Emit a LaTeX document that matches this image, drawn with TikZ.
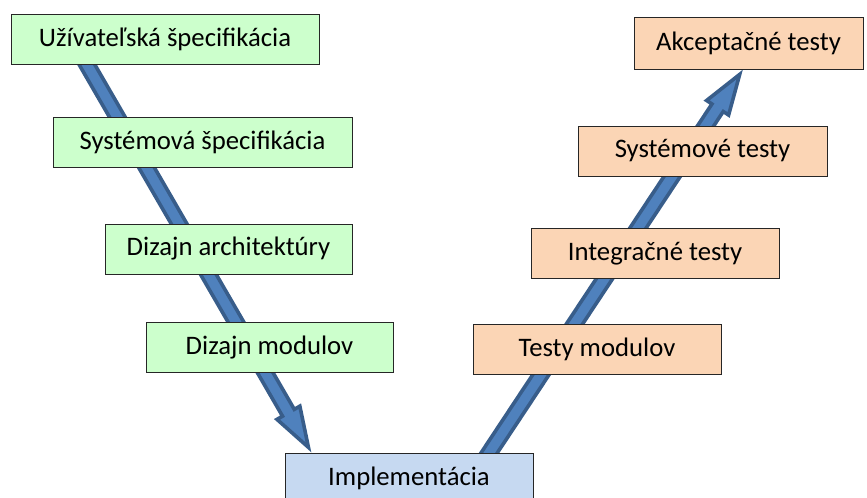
\documentclass[tikz,border=0pt]{standalone}
\usepackage{fontspec}
\setmainfont{Carlito}
\usetikzlibrary{calc,backgrounds}
\definecolor{specgreen}{HTML}{CCFFCC}
\definecolor{testorange}{HTML}{FBD5B5}
\definecolor{implblue}{HTML}{C6D9F1}
\definecolor{arrowfill}{HTML}{4F81BD}
\definecolor{arrowline}{HTML}{385D8A}
\tikzset{
  phase/.style={draw=black!85, line width=0.6pt, minimum height=1.25cm,
    inner sep=0pt, font=\fontsize{19}{23}\selectfont},
  spec/.style={phase, fill=specgreen},
  test/.style={phase, fill=testorange},
  fatarrow/.style={draw=arrowline, fill=arrowfill, line width=0.09cm, line join=miter,
    to path={
      ($(\tikztotarget)!1cm!(\tikztostart)$) coordinate (hb)
      ($(\tikztostart)!0.17cm!90:(\tikztotarget)$)
      -- ($(hb)!0.17cm!90:(\tikztotarget)$)
      -- ($(hb)!0.33cm!90:(\tikztotarget)$)
      -- (\tikztotarget)
      -- ($(hb)!0.33cm!-90:(\tikztotarget)$)
      -- ($(hb)!0.17cm!-90:(\tikztotarget)$)
      -- ($(\tikztostart)!0.17cm!-90:(\tikztotarget)$)
      -- cycle}}
}
\begin{document}
\begin{tikzpicture}
  \useasboundingbox (0,0) rectangle (21.675,12.45);
  % left branch: specification
  \node[spec, minimum width=7.7cm] (user) at (4.125,11.475) {Užívateľská špecifikácia};
  \node[spec, minimum width=7.475cm] (sys) at (5.0625,8.8875) {Systémová špecifikácia};
  \node[spec, minimum width=6.175cm] (arch) at (5.7125,6.225) {Dizajn architektúry};
  \node[spec, minimum width=6.175cm] (mod) at (6.7375,3.7625) {Dizajn modulov};
  % bottom
  \node[phase, fill=implblue, minimum width=6.2cm] (impl) at (10.225,0.5) {Implementácia};
  % right branch: testing
  \node[test, minimum width=6.2cm] (modtest) at (14.925,3.725) {Testy modulov};
  \node[test, minimum width=6.2cm] (inttest) at (16.375,6.1125) {Integračné testy};
  \node[test, minimum width=6.225cm] (systest) at (17.5625,8.675) {Systémové testy};
  \node[test, minimum width=5.725cm, minimum height=1.3cm] (acctest) at (18.7125,11.375) {Akceptačné testy};

  % arrow ends
  \coordinate (lfoot) at ($(user.south west)!0.247!(user.south east)$);
  \coordinate (lhead) at ($(impl.north west)!0.108!(impl.north east)$);
  \coordinate (rfoot) at ($(impl.north west)!0.823!(impl.north east)$);
  \coordinate (rhead) at ($(acctest.south west)!0.476!(acctest.south east)$);
  \coordinate (ltail) at ($(lfoot)!-0.5cm!(lhead)$);
  \coordinate (ltip) at ($(lhead)!0.15cm!(lfoot)$);
  \coordinate (rtail) at ($(rfoot)!-0.5cm!(rhead)$);
  \coordinate (rtip) at ($(rhead)!0.15cm!(rfoot)$);

  \begin{pgfonlayer}{background}
    \draw[fatarrow] (ltail) to (ltip);
    \draw[fatarrow] (rtail) to (rtip);
  \end{pgfonlayer}
\end{tikzpicture}
\end{document}
